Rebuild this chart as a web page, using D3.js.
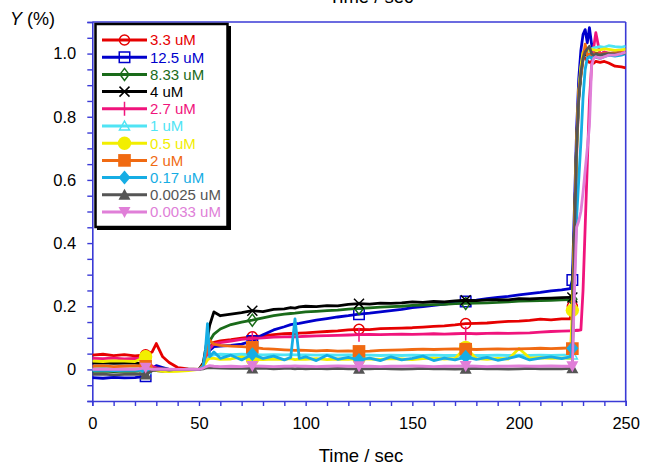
<!DOCTYPE html>
<html><head><meta charset="utf-8">
<script src="https://cdn.jsdelivr.net/npm/d3@7"></script>
<style>
html,body{margin:0;padding:0;background:#fff;}
svg{display:block;font-family:"Liberation Sans",Arial,sans-serif;}
</style></head>
<body>
<svg id="chart" width="646" height="468"></svg>
<script>
// ---- data ----
const time = [0,5,10,15,20,25, 28,30,33,36,40,45,50, 52,53,54,55,57,60, 65,70,75,80,85,90, 93,95,97,
  100,105,110,115,120,125, 130,135,140,145,150,155,160,165,170,175,180,185,190,195,200,205,210,215,220,
  224,225,226,227,228,229,230,231,232,233,234,235,236, 238,240,242,245,248,250];

const seriesNames = ["3.3 uM","12.5 uM","8.33 uM","4 uM","2.7 uM","1 uM","0.5 uM","2 uM","0.17 uM","0.0025 uM","0.0033 uM"];
const seriesColors = ["#e60000","#0000cc","#1a6b1a","#000000","#f0147c","#50e4f4","#f2ee00","#f06a12","#16ade4","#555555","#e07fd8"];
const markerTimes = [25,75,125,175,225];

const v_3_3 = [0.045,0.048,0.044,0.047,0.043,0.046, 0.055,0.082,0.040,0.022,0.006,0.002,0.000, 0.015,0.035,0.055,0.070,0.086,0.090,
  0.094,0.099,0.103,0.106,0.110,0.113, 0.114,0.112,0.115, 0.116,0.118,0.120,0.122,0.125,0.127,
  0.126,0.129,0.130,0.131,0.132,0.134,0.136,0.138,0.141,0.145,0.146,0.147,0.150,0.152,0.153,0.155,0.159,0.157,0.160,
  0.160,0.200,0.420,0.680,0.860,0.950,0.990,0.985,0.978,0.972,0.975,0.970,0.975, 0.972,0.975,0.970,0.960,0.958,0.955];
const v_12_5 = [-0.026,-0.028,-0.025,-0.027,-0.026,-0.022, 0.004,0.012,0.006,0.000,-0.003,0.000,0.000, 0.008,0.025,0.045,0.060,0.072,0.074,
  0.076,0.080,0.090,0.110,0.125,0.135, 0.142,0.144,0.146, 0.150,0.156,0.161,0.166,0.170,0.175,
  0.178,0.182,0.186,0.190,0.196,0.199,0.203,0.207,0.211,0.215,0.219,0.224,0.228,0.231,0.236,0.240,0.244,0.249,0.252,
  0.256,0.283,0.520,0.760,0.920,1.010,1.060,1.076,1.034,1.082,1.030,1.005,1.000, 0.998,1.004,1.000,1.002,1.006,1.002];
const v_8_33 = [-0.006,-0.005,-0.007,-0.005,-0.006,-0.004, 0.000,0.004,0.002,0.000,-0.002,0.000,0.000, 0.012,0.040,0.070,0.090,0.112,0.128,
  0.142,0.150,0.156,0.163,0.170,0.175, 0.177,0.178,0.180, 0.182,0.184,0.186,0.188,0.191,0.193,
  0.195,0.197,0.199,0.200,0.203,0.204,0.205,0.206,0.208,0.209,0.210,0.211,0.212,0.214,0.216,0.217,0.218,0.219,0.220,
  0.221,0.222,0.450,0.720,0.860,0.930,0.985,1.000,0.995,0.990,0.998,0.995,1.000, 0.996,1.000,0.998,1.002,1.000,1.003];
const v_4 = [0.020,0.021,0.019,0.020,0.020,0.018, 0.004,-0.004,-0.005,-0.003,-0.002,0.000,0.000, 0.020,0.060,0.100,0.140,0.182,0.170,
  0.175,0.180,0.186,0.183,0.190,0.192, 0.196,0.194,0.198, 0.200,0.199,0.202,0.201,0.206,0.208,
  0.207,0.210,0.209,0.211,0.214,0.212,0.215,0.214,0.217,0.219,0.218,0.220,0.221,0.220,0.224,0.223,0.225,0.226,0.227,
  0.228,0.228,0.450,0.720,0.870,0.940,0.990,1.000,0.995,0.998,0.993,0.997,1.000, 0.998,1.001,0.996,1.000,1.002,1.000];
const v_2_7 = [0.035,0.034,0.036,0.033,0.035,0.034, 0.010,0.005,0.002,0.000,0.000,0.000,0.000, 0.010,0.030,0.050,0.065,0.081,0.085,
  0.090,0.095,0.098,0.100,0.102,0.103, 0.104,0.103,0.104, 0.105,0.106,0.107,0.108,0.109,0.110,
  0.111,0.110,0.111,0.112,0.111,0.112,0.113,0.112,0.113,0.114,0.113,0.114,0.115,0.114,0.115,0.116,0.118,0.120,0.121,
  0.122,0.122,0.123,0.124,0.124,0.125,0.250,0.450,0.650,0.850,0.960,1.020,1.066, 0.997,1.005,1.000,1.002,1.003,1.005];
const v_1 = [0.002,0.003,0.002,0.001,0.002,0.000, -0.002,0.000,0.001,0.000,-0.001,0.001,0.000, 0.010,0.025,0.035,0.042,0.046,0.048,
  0.047,0.048,0.047,0.046,0.047,0.046, 0.047,0.046,0.046, 0.046,0.045,0.046,0.045,0.046,0.045,
  0.045,0.044,0.045,0.044,0.045,0.044,0.045,0.044,0.044,0.045,0.044,0.044,0.045,0.044,0.045,0.044,0.045,0.044,0.045,
  0.045,0.046,0.400,0.700,0.870,0.950,1.000,1.010,1.005,1.010,1.015,1.018,1.020, 1.022,1.020,1.025,1.022,1.020,1.024];
const v_0_5 = [0.026,0.025,0.027,0.026,0.025,0.040, 0.000,-0.004,-0.006,-0.007,-0.006,-0.004,0.000, 0.010,0.020,0.030,0.035,0.035,0.032,
  0.033,0.040,0.032,0.031,0.033,0.032, 0.034,0.031,0.033, 0.032,0.034,0.031,0.033,0.032,0.034,
  0.033,0.032,0.034,0.033,0.031,0.034,0.036,0.033,0.035,0.070,0.034,0.032,0.035,0.033,0.066,0.036,0.037,0.035,0.036,
  0.036,0.187,0.450,0.700,0.880,0.960,1.005,1.010,1.012,1.010,1.013,1.012,1.010, 1.012,1.015,1.013,1.010,1.012,1.014];
const v_2 = [0.010,0.011,0.009,0.010,0.011,0.010, 0.002,0.000,0.000,-0.001,0.000,0.000,0.000, 0.015,0.040,0.070,0.092,0.080,0.076,
  0.074,0.072,0.070,0.066,0.064,0.062, 0.061,0.060,0.061, 0.060,0.059,0.060,0.058,0.059,0.057,
  0.058,0.060,0.061,0.062,0.063,0.064,0.063,0.064,0.065,0.064,0.063,0.064,0.065,0.064,0.065,0.066,0.067,0.066,0.067,
  0.068,0.066,0.450,0.720,0.880,0.930,0.980,1.030,0.995,0.998,0.996,1.000,1.000, 0.998,1.000,1.002,1.000,1.003,1.001];
const v_0_17 = [-0.003,-0.002,-0.004,-0.003,-0.002,-0.003, 0.000,0.001,0.000,-0.001,0.000,0.000,0.000, 0.010,0.060,0.145,0.040,0.055,0.035,
  0.045,0.030,0.048,0.035,0.042,0.030, 0.038,0.160,0.035, 0.040,0.028,0.045,0.032,0.038,0.030,
  0.036,0.028,0.040,0.030,0.035,0.042,0.028,0.036,0.030,0.040,0.032,0.038,0.029,0.035,0.043,0.030,0.036,0.040,0.034,
  0.040,0.067,0.300,0.480,0.600,0.720,0.860,0.950,0.985,0.990,0.985,0.990,0.988, 0.985,0.990,0.995,0.992,0.995,1.000];
const v_0_0025 = [-0.016,-0.015,-0.017,-0.016,-0.015,-0.016, -0.004,-0.002,0.000,-0.001,0.000,0.000,0.000, 0.002,0.004,0.005,0.006,0.005,0.004,
  0.003,0.004,0.003,0.004,0.002,0.003, 0.003,0.002,0.003, 0.002,0.003,0.002,0.003,0.002,0.002,
  0.002,0.003,0.002,0.001,0.002,0.003,0.002,0.002,0.001,0.002,0.003,0.002,0.002,0.001,0.002,0.003,0.002,0.002,0.002,
  0.003,0.004,0.420,0.700,0.860,0.940,0.985,1.005,1.015,1.023,1.000,0.995,0.998, 0.996,0.998,1.000,0.998,1.000,1.002];
const v_0_0033 = [0.000,0.001,0.000,0.001,0.000,0.005, 0.000,0.000,0.000,0.001,0.000,0.000,0.000, 0.004,0.008,0.010,0.012,0.010,0.009,
  0.010,0.009,0.011,0.010,0.009,0.010, 0.010,0.011,0.010, 0.010,0.009,0.010,0.011,0.010,0.010,
  0.010,0.009,0.010,0.010,0.011,0.010,0.009,0.010,0.010,0.011,0.010,0.009,0.010,0.010,0.011,0.010,0.010,0.011,0.010,
  0.010,0.010,0.250,0.450,0.470,0.500,0.560,0.630,0.700,0.770,0.960,0.985,0.990, 0.985,0.990,0.995,0.995,1.000,1.005];

const seriesValues = [v_3_3,v_12_5,v_8_33,v_4,v_2_7,v_1,v_0_5,v_2,v_0_17,v_0_0025,v_0_0033];
const markerKinds = ["circleOpen","squareOpen","diamondOpen","x","plus","triangleOpen","circle","square","diamond","triangle","triangleDown"];

const xTickLabels = [0,50,100,150,200,250];
const yTickLabels = [0,0.2,0.4,0.6,0.8,1.0];

// ---- layout ----
const svg = d3.select("#chart");
const FONT = "'Liberation Sans',Arial,sans-serif";
const AX = "#3a3ad6";
const x = d3.scaleLinear().domain([0,250]).range([92.3,625.7]);
const y = d3.scaleLinear().domain([-0.1,1.1]).range([401,22]);

// clipped top title
svg.append("text").attr("x",371).attr("y",3).attr("text-anchor","middle")
  .attr("font-size",18.5).attr("font-family",FONT).attr("fill","#000").text("Time / sec");

// Y label
const yl = svg.append("text").attr("x",10).attr("y",25).attr("font-size",18).attr("font-family",FONT).attr("fill","#000");
yl.append("tspan").attr("font-style","italic").text("Y");
yl.append("tspan").text(" (%)");

// axes
const yTicks = d3.range(-2,23).map(i=>+(i*0.05).toFixed(2));
const isLab = v => yTickLabels.some(l=>Math.abs(l-v)<1e-6);
const yAxis = d3.axisLeft(y).tickValues(yTicks).tickSize(5).tickPadding(11)
  .tickFormat(v => isLab(v) ? (v===0 ? "0" : d3.format(".1f")(v)) : "");
const gy = svg.append("g").attr("transform",`translate(${x(0)},0)`).call(yAxis);
const xTicks = d3.range(0,251,10);
const xAxis = d3.axisBottom(x).tickValues(xTicks).tickSize(5).tickPadding(11)
  .tickFormat(v => xTickLabels.includes(v) ? String(v) : "");
const gx = svg.append("g").attr("transform",`translate(0,${y(-0.1)})`).call(xAxis);
[gx,gy].forEach(g=>{
  g.selectAll("path.domain").attr("stroke",AX).attr("stroke-width",1.6);
  g.selectAll(".tick line").attr("stroke",AX).attr("stroke-width",1.4);
  g.selectAll(".tick text").attr("font-size",16.5).attr("font-family",FONT).attr("fill","#000");
});
// frame top/right
svg.append("line").attr("x1",x(0)).attr("x2",x(250)).attr("y1",y(1.1)).attr("y2",y(1.1)).attr("stroke",AX).attr("stroke-width",1.6);
svg.append("line").attr("x1",x(250)).attr("x2",x(250)).attr("y1",y(1.1)).attr("y2",y(-0.1)).attr("stroke",AX).attr("stroke-width",1.6);

// x title
svg.append("text").attr("x",361).attr("y",462).attr("text-anchor","middle")
  .attr("font-size",18.5).attr("font-family",FONT).attr("fill","#000").text("Time / sec");

// clip
svg.append("clipPath").attr("id","plotclip").append("rect")
  .attr("x",x(0)).attr("y",y(1.1)).attr("width",x(250)-x(0)).attr("height",y(-0.1)-y(1.1));

function markerPath(kind){
  switch(kind){
    case "circleOpen": return d3.symbol(d3.symbolCircle,80)();
    case "squareOpen": return d3.symbol(d3.symbolSquare,110)();
    case "diamondOpen": return "M0,-6L4.5,0L0,6L-4.5,0Z";
    case "x": return "M-5,-5L5,5M-5,5L5,-5";
    case "plus": return "M0,-7V7M-6,0H6";
    case "triangleOpen": return "M0,-5L5,4L-5,4Z";
    case "circle": return d3.symbol(d3.symbolCircle,140)();
    case "square": return d3.symbol(d3.symbolSquare,160)();
    case "diamond": return "M0,-7L6,0L0,7L-6,0Z";
    case "triangle": return "M0,-6L6,5L-6,5Z";
    case "triangleDown": return "M0,6L6,-5L-6,-5Z";
  }
}
const filled = k => ["circle","square","diamond","triangle","triangleDown"].includes(k);
function drawMarker(g, kind, color, cx, cy){
  const p = g.append("path").attr("d",markerPath(kind)).attr("transform",`translate(${cx},${cy})`);
  if(filled(kind)) p.attr("fill",color).attr("stroke","none");
  else p.attr("fill","none").attr("stroke",color).attr("stroke-width",1.5);
}

const line = d3.line().x(d=>x(d[0])).y(d=>y(d[1]));
const plot = svg.append("g").attr("clip-path","url(#plotclip)");
seriesValues.forEach((vals,i)=>{
  const pts = time.map((t,j)=>[t,vals[j]]);
  plot.append("path").datum(pts).attr("d",line).attr("fill","none")
    .attr("stroke",seriesColors[i]).attr("stroke-width",2.8).attr("stroke-linejoin","round");
  markerTimes.forEach(mt=>{
    const j = time.indexOf(mt);
    drawMarker(plot, markerKinds[i], seriesColors[i], x(mt), y(vals[j]));
  });
});

// legend
const lg = svg.append("g");
lg.append("rect").attr("x",97).attr("y",26).attr("width",134).attr("height",204).attr("fill","#000");
lg.append("rect").attr("x",95.5).attr("y",24).attr("width",132).attr("height",203)
  .attr("fill","#fff").attr("stroke","#000").attr("stroke-width",2.5);
seriesNames.forEach((n,i)=>{
  const ry = 40 + i*17.2;
  lg.append("line").attr("x1",102).attr("x2",147).attr("y1",ry).attr("y2",ry)
    .attr("stroke",seriesColors[i]).attr("stroke-width",3);
  drawMarker(lg, markerKinds[i], seriesColors[i], 124.5, ry);
  lg.append("text").attr("x",150).attr("y",ry+5.3).attr("font-size",15).attr("font-family",FONT)
    .attr("fill",seriesColors[i]).text(n);
});
</script>
</body></html>
